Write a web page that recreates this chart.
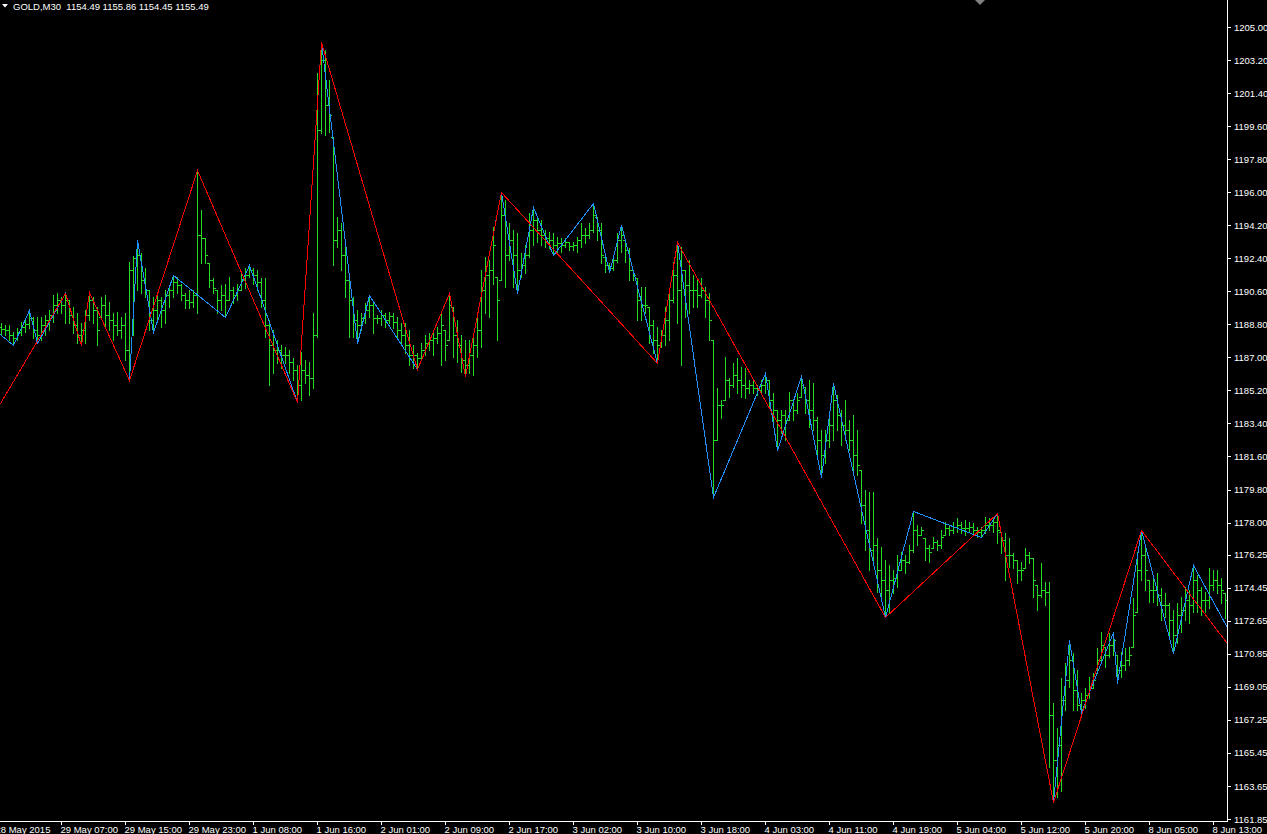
<!DOCTYPE html>
<html>
<head>
<meta charset="utf-8">
<script src="https://cdn.jsdelivr.net/npm/d3@7"></script>
<style>
  html, body { margin: 0; padding: 0; background: #000; overflow: hidden; }
  svg { display: block; }
  text { font-family: "Liberation Sans", Arial, sans-serif; font-size: 9.5px; fill: #fff; }
</style>
</head>
<body>
<div id="chart"></div>
<script>
// GOLD M30 bars (bar 0 = 28 May 23:30)
var symbolTitle = 'GOLD,M30  1154.49 1155.86 1154.45 1155.49';
var firstOpen = 1188.66;

var highs = [
  1188.88, 1188.77, 1188.77, 1188.39, 1188.60, 1188.93, 1189.04, 1189.59, 1189.20, 1189.20,
  1189.20, 1189.31, 1189.59, 1190.39, 1190.50, 1190.29, 1190.50, 1190.13, 1189.75, 1189.42,
  1188.88, 1189.59, 1190.56, 1190.29, 1189.75, 1190.29, 1190.39, 1190.02, 1189.42, 1189.48,
  1189.20, 1189.42, 1192.19, 1192.52, 1193.39, 1192.68, 1191.87, 1190.67, 1190.29, 1190.50,
  1190.29, 1190.67, 1190.83, 1191.48, 1191.38, 1190.99, 1190.50, 1190.67, 1190.67, 1197.21,
  1195.03, 1193.50, 1192.14, 1191.32, 1190.67, 1190.94, 1190.99, 1191.38, 1190.83, 1190.99,
  1191.59, 1191.87, 1192.03, 1191.87, 1191.76, 1191.32, 1191.32, 1189.04, 1188.50, 1187.95,
  1187.68, 1187.57, 1187.41, 1186.97, 1186.59, 1187.30, 1186.86, 1186.75, 1189.42, 1202.49,
  1204.18, 1203.75, 1202.11, 1199.00, 1194.64, 1194.32, 1193.01, 1191.38, 1190.29, 1189.59,
  1189.42, 1189.97, 1190.39, 1189.97, 1189.31, 1189.59, 1189.42, 1189.48, 1189.42, 1189.20,
  1188.88, 1188.88, 1188.50, 1187.68, 1187.24, 1187.79, 1188.22, 1188.33, 1188.50, 1188.66,
  1189.48, 1188.50, 1190.50, 1189.75, 1189.04, 1188.22, 1187.95, 1187.95, 1188.11, 1189.20,
  1191.76, 1192.46, 1192.30, 1194.10, 1191.38, 1196.01, 1195.57, 1194.32, 1193.94, 1193.77,
  1192.68, 1193.12, 1194.86, 1195.19, 1194.64, 1194.48, 1193.94, 1193.83, 1193.77, 1193.55,
  1193.50, 1193.50, 1193.28, 1193.28, 1193.55, 1194.32, 1194.04, 1194.32, 1195.41, 1194.64,
  1194.32, 1192.46, 1192.14, 1192.46, 1193.77, 1194.21, 1193.39, 1192.95, 1191.76, 1191.32,
  1190.83, 1190.83, 1189.75, 1189.04, 1188.66, 1188.50, 1189.75, 1190.67, 1192.19, 1193.28,
  1193.01, 1191.76, 1192.30, 1191.48, 1191.32, 1191.32, 1190.83, 1190.50, 1187.95, 1185.34,
  1184.68, 1187.02, 1185.88, 1186.70, 1186.97, 1186.48, 1186.43, 1185.77, 1185.77, 1185.50,
  1185.77, 1186.15, 1185.77, 1185.06, 1184.14, 1184.14, 1184.14, 1185.12, 1184.68, 1185.06,
  1185.99, 1185.39, 1185.77, 1185.61, 1183.75, 1183.05, 1183.05, 1183.75, 1185.61, 1184.95,
  1184.14, 1184.68, 1183.59, 1183.86, 1183.05, 1180.87, 1179.78, 1179.67, 1179.67, 1177.16,
  1176.67, 1175.96, 1175.69, 1175.42, 1176.23, 1176.40, 1176.23, 1176.78, 1178.63, 1177.87,
  1177.76, 1177.16, 1176.78, 1177.21, 1177.05, 1177.60, 1178.03, 1177.87, 1178.03, 1178.25,
  1178.03, 1178.14, 1178.03, 1177.98, 1177.76, 1177.76, 1178.30, 1178.25, 1178.30, 1178.52,
  1177.49, 1177.43, 1177.16, 1176.34, 1175.96, 1175.85, 1176.62, 1176.40, 1176.07, 1174.60,
  1175.80, 1174.76, 1174.76, 1168.17, 1166.80, 1169.53, 1170.35, 1171.60, 1170.89, 1169.97,
  1168.71, 1168.99, 1169.59, 1169.80, 1171.16, 1172.04, 1171.22, 1171.98, 1172.04, 1170.78,
  1170.95, 1171.16, 1171.22, 1173.89, 1176.40, 1177.60, 1176.67, 1174.87, 1175.04, 1175.26,
  1174.44, 1174.16, 1173.62, 1173.24, 1173.62, 1173.94, 1174.49, 1174.33, 1175.69, 1175.14,
  1174.49, 1174.22, 1175.53, 1175.42, 1175.42, 1174.98, 1174.16
];

var lows = [
  1188.22, 1188.22, 1187.95, 1187.68, 1187.95, 1188.22, 1188.39, 1188.60, 1188.06, 1187.79,
  1187.95, 1188.22, 1188.50, 1188.93, 1189.42, 1189.42, 1188.88, 1188.88, 1188.33, 1187.79,
  1187.68, 1187.79, 1189.04, 1188.88, 1187.68, 1189.20, 1188.60, 1188.50, 1187.95, 1188.22,
  1188.06, 1186.86, 1185.77, 1188.22, 1190.67, 1190.50, 1190.29, 1188.50, 1188.39, 1189.04,
  1188.66, 1188.88, 1189.75, 1190.29, 1190.50, 1190.13, 1189.69, 1189.69, 1189.75, 1189.42,
  1192.14, 1192.14, 1190.83, 1190.50, 1189.42, 1189.59, 1189.20, 1190.13, 1189.97, 1190.13,
  1190.67, 1190.78, 1191.38, 1190.99, 1190.67, 1189.75, 1188.11, 1185.50, 1186.15, 1186.70,
  1186.43, 1186.70, 1186.15, 1185.77, 1184.57, 1184.68, 1185.61, 1184.95, 1185.34, 1188.11,
  1199.22, 1199.11, 1199.28, 1192.03, 1193.01, 1191.76, 1190.29, 1188.11, 1188.11, 1187.79,
  1188.50, 1188.88, 1189.20, 1188.33, 1188.88, 1188.77, 1188.66, 1188.88, 1188.60, 1188.11,
  1187.68, 1187.24, 1186.59, 1186.43, 1186.37, 1186.86, 1187.13, 1187.41, 1187.13, 1187.79,
  1186.59, 1186.86, 1187.95, 1187.02, 1186.75, 1186.21, 1185.99, 1186.15, 1186.04, 1187.02,
  1187.57, 1189.42, 1189.20, 1190.99, 1187.95, 1191.21, 1190.83, 1192.30, 1190.83, 1190.50,
  1191.38, 1191.59, 1192.46, 1193.12, 1193.28, 1193.12, 1193.01, 1192.95, 1192.57, 1192.74,
  1192.74, 1193.01, 1192.85, 1192.85, 1192.74, 1193.01, 1193.23, 1193.50, 1193.83, 1193.39,
  1192.14, 1191.65, 1191.65, 1191.76, 1192.19, 1192.74, 1192.19, 1191.21, 1191.21, 1189.04,
  1189.04, 1189.42, 1187.79, 1187.24, 1186.70, 1187.57, 1187.68, 1187.95, 1190.02, 1188.88,
  1186.59, 1189.20, 1189.42, 1189.75, 1189.75, 1190.29, 1189.20, 1187.95, 1179.40, 1182.50,
  1183.70, 1184.68, 1184.84, 1185.39, 1185.06, 1184.84, 1184.79, 1185.06, 1185.06, 1184.95,
  1185.06, 1185.06, 1184.30, 1183.48, 1181.96, 1182.88, 1182.50, 1183.59, 1183.59, 1183.97,
  1184.84, 1183.97, 1183.21, 1183.05, 1181.56, 1180.49, 1181.25, 1182.12, 1182.50, 1183.05,
  1182.23, 1182.50, 1181.96, 1180.87, 1180.59, 1177.98, 1176.51, 1175.42, 1175.96, 1174.22,
  1173.89, 1172.85, 1173.13, 1174.16, 1174.49, 1175.42, 1175.26, 1175.80, 1176.40, 1176.78,
  1177.32, 1175.96, 1175.85, 1176.62, 1176.51, 1176.62, 1177.32, 1177.32, 1177.43, 1177.49,
  1177.43, 1177.32, 1177.49, 1177.43, 1177.21, 1177.21, 1177.43, 1177.60, 1177.49, 1176.89,
  1176.34, 1174.87, 1175.58, 1175.53, 1174.71, 1174.87, 1175.53, 1175.80, 1173.94, 1173.24,
  1173.94, 1173.51, 1164.68, 1162.78, 1163.05, 1163.37, 1167.79, 1169.04, 1167.79, 1167.79,
  1167.68, 1167.89, 1168.44, 1168.99, 1169.80, 1170.40, 1170.13, 1170.67, 1170.78, 1169.26,
  1169.59, 1169.97, 1170.24, 1171.22, 1173.13, 1174.87, 1174.33, 1173.67, 1173.67, 1173.51,
  1172.69, 1172.85, 1171.76, 1170.89, 1171.44, 1172.04, 1172.69, 1172.53, 1173.13, 1173.13,
  1172.96, 1173.13, 1173.34, 1174.33, 1174.16, 1173.62, 1172.80
];

var closes = [
  1188.55, 1188.50, 1188.22, 1188.06, 1188.39, 1188.66, 1188.82, 1189.15, 1188.50, 1188.22,
  1188.77, 1189.04, 1189.31, 1189.86, 1190.13, 1189.86, 1190.13, 1189.31, 1188.77, 1188.22,
  1188.50, 1189.31, 1190.13, 1189.59, 1188.50, 1189.86, 1189.31, 1189.04, 1188.77, 1188.50,
  1188.77, 1187.41, 1191.76, 1192.41, 1192.57, 1191.21, 1190.67, 1189.04, 1189.59, 1190.13,
  1189.59, 1190.39, 1190.67, 1191.10, 1190.94, 1190.39, 1190.13, 1190.02, 1190.39, 1193.66,
  1193.50, 1192.57, 1191.21, 1190.78, 1190.13, 1190.39, 1190.13, 1190.67, 1190.39, 1190.67,
  1191.21, 1191.48, 1191.76, 1191.48, 1191.10, 1190.13, 1188.77, 1187.68, 1187.41, 1187.41,
  1187.13, 1187.13, 1186.75, 1186.32, 1185.50, 1186.32, 1186.04, 1185.88, 1188.22, 1199.39,
  1203.20, 1200.75, 1200.20, 1193.39, 1193.94, 1192.57, 1191.21, 1190.13, 1189.04, 1188.77,
  1189.15, 1189.59, 1189.86, 1189.15, 1189.15, 1189.31, 1189.04, 1189.26, 1188.93, 1188.50,
  1188.22, 1187.68, 1187.13, 1187.13, 1186.97, 1187.41, 1187.79, 1187.95, 1188.06, 1188.33,
  1188.77, 1187.68, 1189.86, 1188.22, 1187.68, 1186.86, 1186.59, 1187.13, 1187.68, 1188.50,
  1190.67, 1191.48, 1191.76, 1193.12, 1190.13, 1194.75, 1192.57, 1193.39, 1192.57, 1191.76,
  1192.03, 1192.57, 1193.94, 1194.48, 1193.94, 1193.66, 1193.50, 1193.39, 1193.12, 1193.23,
  1193.12, 1193.28, 1193.06, 1193.12, 1193.39, 1193.66, 1193.66, 1193.94, 1194.75, 1193.94,
  1192.57, 1192.03, 1191.87, 1192.30, 1193.39, 1193.66, 1192.85, 1191.76, 1191.48, 1190.13,
  1189.86, 1189.86, 1188.77, 1187.95, 1187.68, 1188.22, 1189.04, 1190.13, 1191.48, 1190.67,
  1191.76, 1190.94, 1190.67, 1190.67, 1190.39, 1190.67, 1190.13, 1189.04, 1182.50, 1184.41,
  1184.41, 1185.77, 1185.50, 1186.04, 1185.77, 1185.50, 1185.34, 1185.50, 1185.34, 1185.23,
  1185.50, 1185.77, 1184.68, 1184.14, 1183.59, 1183.86, 1183.59, 1184.68, 1184.14, 1184.68,
  1185.50, 1184.68, 1184.14, 1183.59, 1182.50, 1181.68, 1182.50, 1183.32, 1184.68, 1183.86,
  1183.32, 1183.05, 1182.50, 1181.68, 1181.14, 1178.96, 1177.60, 1176.51, 1176.78, 1175.42,
  1174.87, 1174.33, 1174.87, 1174.98, 1175.42, 1175.96, 1175.85, 1176.51, 1177.60, 1177.32,
  1177.60, 1176.62, 1176.40, 1176.94, 1176.78, 1177.21, 1177.70, 1177.60, 1177.76, 1177.87,
  1177.70, 1177.70, 1177.76, 1177.60, 1177.49, 1177.60, 1177.87, 1177.87, 1178.03, 1177.60,
  1177.05, 1176.23, 1176.23, 1175.96, 1175.42, 1175.42, 1176.23, 1176.07, 1174.87, 1174.05,
  1174.33, 1174.22, 1167.51, 1165.06, 1165.88, 1168.33, 1169.42, 1170.51, 1168.88, 1168.06,
  1168.33, 1168.60, 1168.99, 1169.42, 1170.51, 1171.33, 1170.78, 1171.33, 1171.60, 1169.97,
  1170.24, 1170.51, 1170.78, 1172.96, 1175.42, 1176.23, 1175.42, 1174.33, 1174.33, 1174.05,
  1173.51, 1173.51, 1172.69, 1171.87, 1172.96, 1173.24, 1173.78, 1173.51, 1174.87, 1174.33,
  1173.78, 1173.78, 1174.60, 1174.87, 1174.60, 1174.33, 1173.78
];

// zigzag turning points: [bar index, price]; first/last ones lie off screen
var redZigzag = [
  [-10, 1180.92], [16, 1190.50], [20, 1187.68], [22, 1190.56], [32, 1185.77],
  [49, 1197.21], [74, 1184.57], [80, 1204.18], [104, 1186.37], [112, 1190.50],
  [116, 1185.99], [125, 1196.01], [164, 1186.70], [169, 1193.28], [221, 1172.85],
  [249, 1178.52], [263, 1162.78], [285, 1177.60], [318, 1168.11]
];

var blueZigzag = [
  [-3, 1188.77], [3, 1187.68], [7, 1189.59], [9, 1187.79], [16, 1190.50],
  [20, 1187.68], [22, 1190.56], [32, 1185.77], [34, 1193.39], [38, 1188.39],
  [43, 1191.48], [56, 1189.20], [62, 1192.03], [74, 1184.57], [80, 1204.18],
  [89, 1187.79], [92, 1190.39], [104, 1186.37], [112, 1190.50], [116, 1185.99],
  [125, 1196.01], [129, 1190.50], [133, 1195.19], [138, 1192.57], [148, 1195.41],
  [152, 1191.65], [155, 1194.21], [164, 1186.70], [169, 1193.28], [178, 1179.40],
  [191, 1186.15], [194, 1181.96], [200, 1185.99], [205, 1180.49], [208, 1185.61],
  [221, 1172.85], [228, 1178.63], [245, 1177.21], [249, 1178.52], [263, 1162.78],
  [267, 1171.60], [270, 1167.68], [278, 1172.04], [279, 1169.26], [285, 1177.60],
  [293, 1170.89], [298, 1175.69], [310, 1170.89]
];

var priceTicks = [
  1205.00, 1203.20, 1201.40, 1199.60, 1197.80, 1196.00, 1194.20, 1192.40, 1190.60,
  1188.80, 1187.00, 1185.20, 1183.40, 1181.60, 1179.80, 1178.00, 1176.25, 1174.45,
  1172.65, 1170.85, 1169.05, 1167.25, 1165.45, 1163.65, 1161.85
];

var timeLabels = [
  '28 May 2015', '29 May 07:00', '29 May 15:00', '29 May 23:00', '1 Jun 08:00',
  '1 Jun 16:00', '2 Jun 01:00', '2 Jun 09:00', '2 Jun 17:00', '3 Jun 02:00',
  '3 Jun 10:00', '3 Jun 18:00', '4 Jun 03:00', '4 Jun 11:00', '4 Jun 19:00',
  '5 Jun 04:00', '5 Jun 12:00', '5 Jun 20:00', '8 Jun 05:00', '8 Jun 13:00'
];
var timeLabelBars = [0, 15, 31, 47, 63, 79, 95, 111, 127, 143, 159, 175, 191, 207, 223, 239, 255, 271, 287, 303];

var barColor = '#22dd22';
var redColor = '#ff0000';
var blueColor = '#1e90ff';

var render = function() {
  var width = 1267;
  var height = 834;
  var plotRight = 1227;
  var plotBottom = 821;

  var xScale = d3
    .scaleLinear()
    .domain([0, highs.length - 1])
    .range([1, 1 + 4 * (highs.length - 1)]);

  var yScale = d3
    .scaleLinear()
    .domain([1161.85, 1205.0])
    .range([819, 27]);

  var svg = d3
    .select('#chart')
    .append('svg')
    .attr('width', width)
    .attr('height', height)
    .style('background', '#000');

  svg
    .append('defs')
    .append('clipPath')
    .attr('id', 'plot-clip')
    .append('rect')
    .attr('x', 0)
    .attr('y', 0)
    .attr('width', plotRight)
    .attr('height', plotBottom);

  var plot = svg.append('g').attr('clip-path', 'url(#plot-clip)');

  // open of a bar = previous close (kept inside the bar range)
  var bars = highs.map(function(h, i) {
    var open = i == 0 ? firstOpen : closes[i - 1];
    return {
      i: i,
      high: h,
      low: lows[i],
      open: Math.max(lows[i], Math.min(h, open)),
      close: closes[i]
    };
  });

  var px = i => Math.round(xScale(i));
  var py = v => Math.round(yScale(v));

  var barGroup = plot
    .append('g')
    .attr('class', 'bars')
    .attr('fill', barColor)
    .attr('shape-rendering', 'crispEdges');

  barGroup
    .selectAll('rect.hl')
    .data(bars)
    .enter()
    .append('rect')
    .attr('class', 'hl')
    .attr('x', d => px(d.i))
    .attr('y', d => py(d.high))
    .attr('width', 1)
    .attr('height', d => py(d.low) - py(d.high) + 1);

  barGroup
    .selectAll('rect.open')
    .data(bars)
    .enter()
    .append('rect')
    .attr('class', 'open')
    .attr('x', d => px(d.i) - 2)
    .attr('y', d => py(d.open))
    .attr('width', 2)
    .attr('height', 1);

  barGroup
    .selectAll('rect.close')
    .data(bars)
    .enter()
    .append('rect')
    .attr('class', 'close')
    .attr('x', d => px(d.i) + 1)
    .attr('y', d => py(d.close))
    .attr('width', 2)
    .attr('height', 1);

  // zigzag lines
  var line = d3
    .line()
    .x(d => Math.round(xScale(d[0])) + 0.5)
    .y(d => Math.round(yScale(d[1])) + 0.5);

  plot
    .append('path')
    .datum(blueZigzag)
    .attr('d', line)
    .attr('fill', 'none')
    .attr('stroke', blueColor)
    .attr('stroke-width', 1)
    .attr('shape-rendering', 'crispEdges');

  plot
    .append('path')
    .datum(redZigzag)
    .attr('d', line)
    .attr('fill', 'none')
    .attr('stroke', redColor)
    .attr('stroke-width', 1)
    .attr('shape-rendering', 'crispEdges');

  // frame lines
  svg
    .append('line')
    .attr('x1', plotRight + 0.5)
    .attr('x2', plotRight + 0.5)
    .attr('y1', 0)
    .attr('y2', plotBottom + 1)
    .attr('stroke', '#fff')
    .attr('shape-rendering', 'crispEdges');

  svg
    .append('line')
    .attr('x1', 0)
    .attr('x2', plotRight + 1)
    .attr('y1', plotBottom + 0.5)
    .attr('y2', plotBottom + 0.5)
    .attr('stroke', '#fff')
    .attr('shape-rendering', 'crispEdges');

  // price axis
  var yAxis = d3
    .axisRight(yScale)
    .tickValues(priceTicks)
    .tickSize(3)
    .tickSizeOuter(0)
    .tickPadding(3)
    .tickFormat(d3.format('.2f'));

  var yAxisGroup = svg
    .append('g')
    .attr('class', 'y axis')
    .attr('transform', `translate(${plotRight + 1},0)`)
    .call(yAxis)
    .attr('font-family', null)
    .attr('font-size', null)
    .attr('shape-rendering', 'crispEdges');

  yAxisGroup.select('.domain').remove();
  yAxisGroup.selectAll('line').attr('stroke', '#fff');
  yAxisGroup.selectAll('text').attr('fill', '#fff');

  // time axis
  var xAxis = d3
    .axisBottom(xScale)
    .tickValues(timeLabelBars)
    .tickSize(4)
    .tickSizeOuter(0)
    .tickPadding(1)
    .tickFormat((d, i) => timeLabels[i]);

  var xAxisGroup = svg
    .append('g')
    .attr('class', 'x axis')
    .attr('transform', `translate(0,${plotBottom})`)
    .call(xAxis)
    .attr('font-family', null)
    .attr('font-size', null)
    .attr('shape-rendering', 'crispEdges');

  xAxisGroup.select('.domain').remove();
  xAxisGroup.selectAll('line').attr('stroke', '#fff');
  xAxisGroup
    .selectAll('text')
    .attr('fill', '#fff')
    .attr('text-anchor', 'start')
    .attr('x', (d, i) => (i == 0 ? -6 : -1));
  xAxisGroup
    .selectAll('.tick')
    .filter((d, i) => i == 0)
    .select('line')
    .remove();

  // header
  svg
    .append('path')
    .attr('d', 'M2,4 L8,4 L5,7.5 Z')
    .attr('fill', '#fff');

  svg
    .append('text')
    .attr('x', 13)
    .attr('y', 10)
    .attr('xml:space', 'preserve')
    .style('white-space', 'pre')
    .text(symbolTitle);

  // chart shift marker
  svg
    .append('path')
    .attr('d', 'M975,0 L985,0 L980,5 Z')
    .attr('fill', '#808080');
};

render();
</script>
</body>
</html>
